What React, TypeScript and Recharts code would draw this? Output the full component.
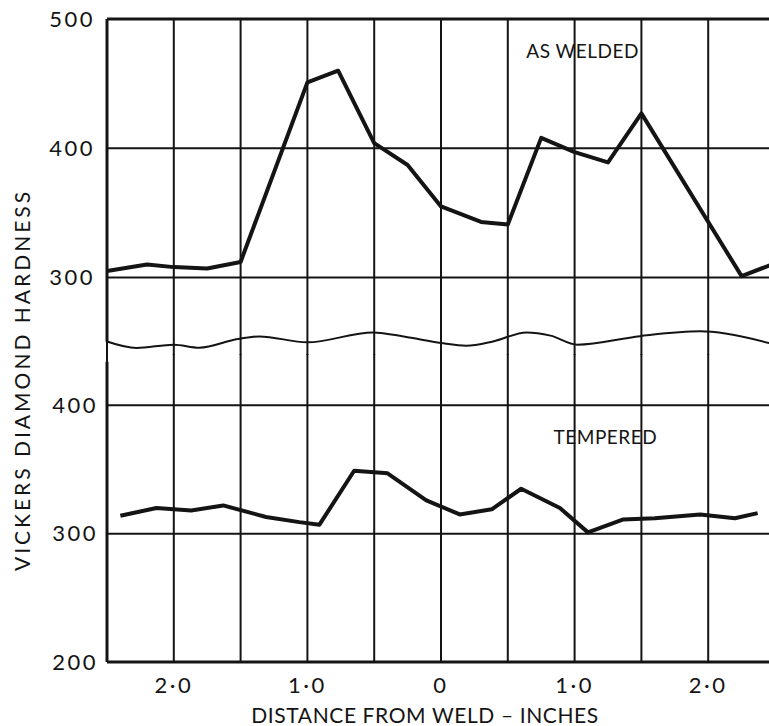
import { LineChart, Line, XAxis, YAxis, CartesianGrid, ReferenceLine, ReferenceDot, Label } from 'recharts'

const FONT = 'Lato, "Open Sans", sans-serif'
const INK = '#141414'

// distance from weld in inches (left of weld negative), hardness in VDH
const xTicks = [-2, -1.5, -1, -0.5, 0, 0.5, 1, 1.5, 2, 2.5]
const topTicks = [300, 400, 500]
const bottomTicks = [200, 300, 400]
const gridValues = [300, 400]

const asWeldedX = [-2.5, -2.2, -2.0, -1.75, -1.5, -1.0, -0.77, -0.5, -0.25, 0, 0.3, 0.5, 0.75, 1.0, 1.25, 1.5, 2.25, 2.5]
const asWelded = [305, 310, 308, 307, 312, 451, 460, 404, 387, 355, 343, 341, 408, 397, 389, 427, 301, 311]

const temperedX = [-2.4, -2.13, -1.87, -1.63, -1.31, -1.06, -0.91, -0.65, -0.4, -0.11, 0.14, 0.38, 0.6, 0.89, 1.1, 1.36, 1.6, 1.94, 2.2, 2.37]
const tempered = [314, 320, 318, 322, 313, 309, 307, 349, 347, 326, 315, 319, 335, 320, 301, 311, 312, 315, 312, 316]

// the wavy break line at the foot of the upper scale
const breakX = [-2.5, -2.28, -2.0, -1.81, -1.52, -1.36, -1.0, -0.51, -0.26, 0, 0.19, 0.39, 0.64, 0.82, 1.02, 1.49, 1.94, 2.14, 2.5]
const breakY = [250.5, 245.5, 248, 245.7, 252.4, 254.4, 249.8, 257.5, 254, 249.3, 247.2, 250.5, 257.5, 255, 248, 254.6, 258.3, 256.5, 248]

const asWeldedLabel = { x: 1.06, y: 475, text: 'AS WELDED' }
const temperedLabel = { x: 1.23, y: 375, text: 'TEMPERED' }

const toPoints = (xs: number[], ys: number[]) => xs.map((x, i) => ({ x, y: ys[i] }))

const fmtX = (v: number) => {
  if (!Number.isInteger(v)) return ''
  return v === 0 ? '0' : `${Math.abs(v)}·0`
}

const tickStyle = { fontSize: 22, fill: INK, fontFamily: FONT, letterSpacing: 2.5 }
const noteStyle = { fontSize: 19, fill: INK, fontFamily: FONT, letterSpacing: 0.5 }

export default function App() {
  return (
    <div
      style={{
        position: 'fixed',
        left: 0,
        top: 0,
        width: 769,
        height: 726,
        overflow: 'hidden',
        background: '#fff',
        fontFamily: FONT,
      }}
    >
      {/* upper panel: as welded */}
      <div style={{ position: 'absolute', left: 0, top: 0 }}>
        <LineChart width={775} height={355} margin={{ top: 19, right: 0, bottom: 0, left: 0 }}>
          <CartesianGrid stroke={INK} strokeWidth={2} horizontal={false} />
          <XAxis type="number" dataKey="x" domain={[-2.5, 2.5]} ticks={xTicks} hide />
          <YAxis
            type="number"
            domain={[240, 500]}
            ticks={topTicks}
            width={107}
            axisLine={false}
            tickLine={false}
            tickSize={0}
            tickMargin={12}
            tick={tickStyle}
          />
          {gridValues.map((v) => (
            <ReferenceLine key={v} y={v} stroke={INK} strokeWidth={2} />
          ))}
          <ReferenceLine y={500} stroke={INK} strokeWidth={3} />
          <ReferenceLine
            segment={[{ x: -2.5, y: 250.5 }, { x: -2.5, y: 500 }]}
            stroke={INK}
            strokeWidth={3}
          />
          <Line
            data={toPoints(breakX, breakY)}
            dataKey="y"
            type="monotone"
            stroke={INK}
            strokeWidth={2}
            dot={false}
            isAnimationActive={false}
          />
          <Line
            data={toPoints(asWeldedX, asWelded)}
            dataKey="y"
            type="linear"
            stroke={INK}
            strokeWidth={4}
            strokeLinejoin="round"
            dot={false}
            isAnimationActive={false}
          />
          <ReferenceDot x={asWeldedLabel.x} y={asWeldedLabel.y} r={0} fill="none" stroke="none">
            <Label value={asWeldedLabel.text} position="center" style={noteStyle} />
          </ReferenceDot>
        </LineChart>
      </div>

      {/* lower panel: tempered */}
      <div style={{ position: 'absolute', left: 0, top: 354 }}>
        <LineChart width={775} height={372} margin={{ top: 0, right: 0, bottom: 0, left: 0 }}>
          <CartesianGrid stroke={INK} strokeWidth={2} horizontal={false} />
          <XAxis
            type="number"
            dataKey="x"
            domain={[-2.5, 2.5]}
            ticks={xTicks}
            height={64}
            axisLine={{ stroke: INK, strokeWidth: 3 }}
            tickLine={false}
            tickSize={0}
            tickMargin={15}
            tickFormatter={fmtX}
            tick={tickStyle}
          >
            <Label
              value="DISTANCE  FROM WELD – INCHES"
              position="insideBottom"
              offset={3}
              dx={-16}
              style={{ fontSize: 21, fill: INK, fontFamily: FONT, letterSpacing: 0.6 }}
            />
          </XAxis>
          <YAxis
            type="number"
            domain={[200, 440]}
            ticks={bottomTicks}
            width={107}
            axisLine={false}
            tickLine={false}
            tickSize={0}
            tickMargin={9}
            tick={tickStyle}
          />
          {gridValues.map((v) => (
            <ReferenceLine key={v} y={v} stroke={INK} strokeWidth={2} />
          ))}
          <ReferenceLine
            segment={[{ x: -2.5, y: 200 }, { x: -2.5, y: 434 }]}
            stroke={INK}
            strokeWidth={3}
          />
          <Line
            data={toPoints(temperedX, tempered)}
            dataKey="y"
            type="linear"
            stroke={INK}
            strokeWidth={4}
            strokeLinejoin="round"
            dot={false}
            isAnimationActive={false}
          />
          <ReferenceDot x={temperedLabel.x} y={temperedLabel.y} r={0} fill="none" stroke="none">
            <Label value={temperedLabel.text} position="center" style={noteStyle} />
          </ReferenceDot>
        </LineChart>
      </div>

      <div
        style={{
          position: 'absolute',
          left: 21,
          top: 380,
          transform: 'translate(-50%, -50%) rotate(-90deg)',
          whiteSpace: 'nowrap',
          fontSize: 21,
          letterSpacing: 3,
          color: INK,
        }}
      >
        VICKERS DIAMOND HARDNESS
      </div>
    </div>
  )
}
